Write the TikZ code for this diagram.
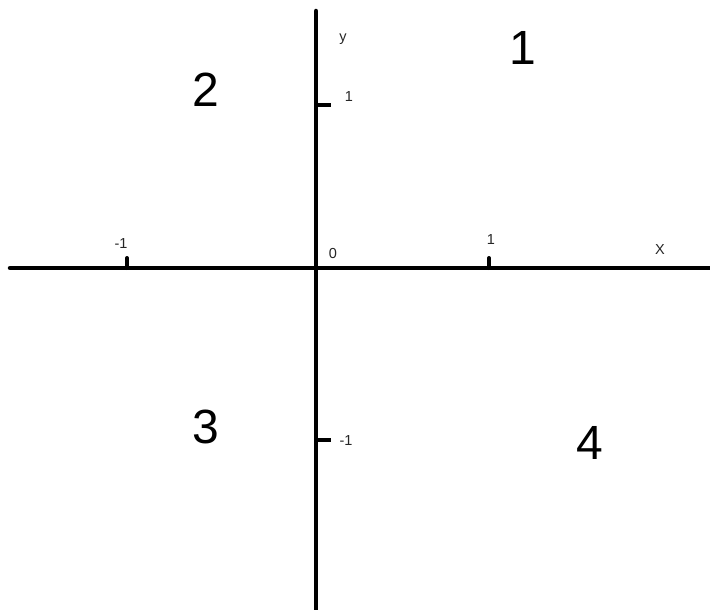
\documentclass[tikz,border=0pt]{standalone}
\usepackage{fontspec}
\setmainfont{Liberation Sans}
\begin{document}
\begin{tikzpicture}[x=1pt,y=-1pt,
  axis/.style={line width=4.5pt},
  tickmark/.style={line width=4pt},
  big/.style={font=\fontsize{48}{48}\selectfont, inner sep=0pt},
  small/.style={font=\fontsize{14.5}{14.5}\selectfont, inner sep=0pt, text=black!85}]
\useasboundingbox[fill=white] (0,0) rectangle (710,610);
% axes
\coordinate (xl) at (10,268);
\coordinate (xr) at (710,268);
\coordinate (yt) at (316,11);
\coordinate (yb) at (316,610);
\draw[axis, line cap=round] (xl) -- (xr);
\draw[axis, line cap=round] (yt) -- (yb);
% ticks
\coordinate (tm1) at (127,268); \coordinate (tm1e) at (127,258);
\coordinate (tp1) at (489,268); \coordinate (tp1e) at (489,258);
\coordinate (ty1) at (316,105); \coordinate (ty1e) at (331,105);
\coordinate (tym1) at (316,440); \coordinate (tym1e) at (331,440);
\draw[tickmark, line cap=round] (tm1) -- (tm1e);
\draw[tickmark, line cap=round] (tp1) -- (tp1e);
\draw[tickmark] (ty1) -- (ty1e);
\draw[tickmark] (tym1) -- (tym1e);
% small labels
\node[small] (ly) at (343,39) {y};
\node[small] (l1y) at (349,97) {1};
\node[small] (lm1x) at (121,244) {-1};
\node[small] (l0) at (333,254) {0};
\node[small] (l1x) at (491,240) {1};
\node[small] (lX) at (660,250) {X};
\node[small] (lm1y) at (346,441) {-1};
% quadrant numbers
\node[big] (q1) at (523,48) {1};
\node[big] (q2) at (206,90) {2};
\node[big] (q3) at (206,427) {3};
\node[big] (q4) at (590,443) {4};
\end{tikzpicture}
\end{document}
